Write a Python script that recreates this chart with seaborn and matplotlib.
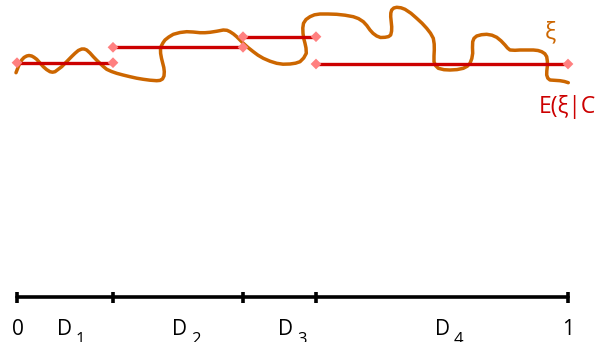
import matplotlib
matplotlib.use("Agg")
import matplotlib.pyplot as plt
import seaborn as sns
import pandas as pd

sns.set_theme(style="white")
plt.rcParams['font.family'] = ['Open Sans', 'DejaVu Sans']
plt.rcParams['text.color'] = 'black'

# partition breakpoints (horizontal position units)
breaks = [17, 113, 243, 316, 568]
# conditional expectation level on each cell (vertical position, top-down)
cond_exp = [62.7, 47.3, 36.7, 64.0]
cells = ["D", "D", "D", "D"]
cell_subs = ["1", "2", "3", "4"]
end_labels = ["0", "1"]

# the random variable xi (hand-drawn curve)
xi_pts = [
    (16, 72.7), (17.2, 69.5), (18.3, 66.7), (20, 63), (21.7, 60), (24, 57.5), (26.7, 56),
    (29, 55.5), (31.7, 56), (34, 57.3), (36.7, 59.3), (40, 63), (43.3, 66.7), (46.5, 69.5),
    (50, 71.7), (52.5, 72.2), (55, 71.7), (58, 69.5), (61.7, 66.7), (65, 63.3), (68.3, 60),
    (71.7, 56.5), (75, 53.3), (78.3, 50.5), (81.7, 49), (84.3, 49), (86.7, 50), (90, 53),
    (93.3, 56.7), (96.7, 60.2), (100, 63.3), (103.3, 66.5), (106.7, 69.3), (111.5, 71.5),
    (116.7, 73.3), (123, 75), (130, 76.7), (136.7, 78.2), (143.3, 79.3), (150, 80.2),
    (156.7, 80.7), (160, 80.4), (162.5, 79), (164, 76), (164.3, 71.7), (163.8, 67.5),
    (162.7, 63.3), (161.5, 58.3), (160.6, 53.3), (160.5, 49.5), (161.3, 46), (163, 42.8),
    (165, 40), (168.8, 37), (173.3, 34.3), (180, 32.5), (186.7, 31.7), (193, 32), (200, 32.7),
    (205, 32.7), (210, 32.3), (217, 31.2), (223.3, 30), (227, 30.3), (230, 31.7), (233.5, 34),
    (236.7, 36.7), (240, 40), (243.3, 43.3), (248, 47.5), (253.3, 51.7), (258, 55.2),
    (263.3, 58.3), (270, 61.2), (276.7, 63.3), (283, 64.2), (290, 64), (295.5, 63.2),
    (300, 61.7), (303.7, 58), (306.3, 53.3), (306, 48), (305, 43.3), (303.7, 38.3), (303, 33.3),
    (302.8, 28), (303.5, 23.3), (306, 19.5), (310, 16.7), (314.5, 14.8), (320, 14), (328, 14),
    (336.7, 14.3), (345, 15.2), (353.3, 16.7), (358.5, 18.6), (363.3, 21.7), (366.8, 25.5),
    (370, 30), (373, 33.3), (376.7, 36), (380.5, 37.5), (385, 37.3), (388.5, 36.6), (390.7, 35),
    (391.6, 31), (391.7, 26.7), (391.2, 21.5), (390.7, 16.7), (390.8, 13), (391.7, 10),
    (393.8, 8), (396.7, 7.3), (401, 7.8), (405, 9.3), (411, 13.3), (416.7, 18.3), (422, 23.2),
    (426.7, 28.3), (430.5, 33.2), (433.3, 38.3), (434.2, 44), (434.3, 50), (434, 56),
    (434, 61.7), (435.5, 65.5), (438.3, 68.3), (444, 69.7), (450, 70), (457, 69.6),
    (463.3, 68.3), (467.3, 66.2), (470, 63.3), (471.8, 58.6), (472.7, 53.3), (472.5, 47.5),
    (472.7, 41.7), (474, 38.3), (476.7, 36), (481.5, 34.7), (486.7, 34.3), (492, 35.2),
    (496.7, 37.3), (501, 40.8), (505, 45), (507.5, 48), (510, 50), (515, 50.3), (520, 50),
    (527, 50), (533.3, 50), (538, 50.5), (541.7, 51.7), (544.8, 53.7), (546.7, 56.7),
    (547.4, 61.5), (547.3, 66.7), (546.8, 71), (546.7, 75), (547.8, 78.2), (550, 80),
    (555, 80.3), (560, 80.7), (564.5, 81.5), (568.3, 82.7),
]
xi_x = [p[0] for p in xi_pts]
xi_y = [p[1] for p in xi_pts]

axis_level = 297

ORANGE = "#CC6600"
RED = "#CC0000"
PINK = "#FF8080"

fig = plt.figure(figsize=(5.96, 3.42), dpi=100)
ax = fig.add_axes([0, 0, 1, 1])
ax.set_xlim(0, 596)
ax.set_ylim(342, 0)
ax.axis("off")

# xi curve
df_xi = pd.DataFrame({"x": xi_x, "y": xi_y})
sns.lineplot(data=df_xi, x="x", y="y", sort=False, estimator=None, color=ORANGE,
             lw=2.5, ax=ax, zorder=2, solid_capstyle="round", solid_joinstyle="round")

# conditional expectation segments
rows = []
for i, v in enumerate(cond_exp):
    rows.append({"seg": i, "x": breaks[i], "y": v})
    rows.append({"seg": i, "x": breaks[i + 1], "y": v})
df_seg = pd.DataFrame(rows)
sns.lineplot(data=df_seg, x="x", y="y", units="seg", estimator=None, sort=False,
             color=RED, lw=2.4, ax=ax, zorder=3)
sns.scatterplot(data=df_seg, x="x", y="y", marker="D", s=30, color=PINK,
                edgecolor="none", ax=ax, zorder=4)

# base axis
df_ax = pd.DataFrame({"x": [breaks[0], breaks[-1]], "y": [axis_level] * 2})
sns.lineplot(data=df_ax, x="x", y="y", color="black", lw=2.6, ax=ax, zorder=2)
ax.vlines(breaks, axis_level - 5, axis_level + 6, color="black", lw=2.6, zorder=2)

# labels
fs = 15
ax.text(breaks[0] + 1, 335, end_labels[0], ha="center", va="baseline", fontsize=fs, color="black")
ax.text(breaks[-1], 335, end_labels[1], ha="center", va="baseline", fontsize=fs, color="black")
d_left = [57, 172, 278, 435]
for xl, lab, sub in zip(d_left, cells, cell_subs):
    ax.text(xl, 335, lab, ha="left", va="baseline", fontsize=fs, color="black")
    ax.text(xl + 19, 344.5, sub, ha="left", va="baseline", fontsize=12, color="black")

ax.text(550, 32, "ξ", color=ORANGE, ha="center", va="center", fontsize=17)
ax.text(539, 113, "E(ξ|C)", color=RED, ha="left", va="baseline", fontsize=16.5)

fig.savefig("out.png", dpi=100)
